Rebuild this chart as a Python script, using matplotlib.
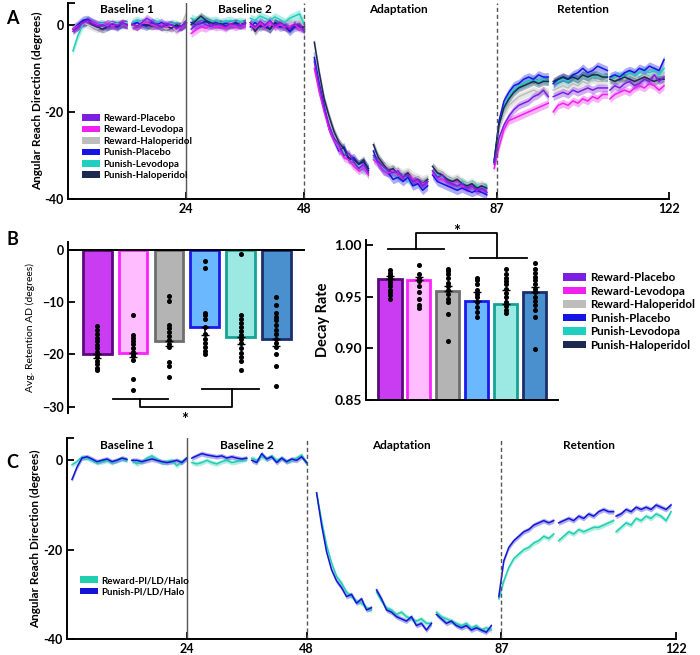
import numpy as np
import matplotlib.pyplot as plt
from matplotlib.patches import Patch

plt.rcParams['font.family'] = ['Lato', 'DejaVu Sans']
plt.rcParams['font.weight'] = 'bold'
plt.rcParams['axes.linewidth'] = 1.4

#----------------------------Data----------------------------------------------#
# trial blocks: 12 cycles each, 4 baseline, 3 adaptation, 3 retention blocks
block_starts = [1, 13, 25, 37, 50, 62, 74, 86.5, 98.5, 110]

rew_placebo = [
    -1.5, -0.5, 0.5, 1.0, 0.2, -0.3, 0.0, -0.5, 0.3, -0.2, 0.5, 0.0,
    0.2, -0.3, 0.5, 1.5, 0.8, 0.0, -0.5, 0.2, 0.0, -0.8, -0.3, 0.5,
    -1.0, 0.0, 0.5, 0.0, -0.3, 0.2, 0.0, -0.5, 0.3, 0.0, -0.2, 0.4,
    0.5, -0.5, 0.8, 0.0, 1.0, -0.3, 0.5, 0.0, -1.0, 0.2, 0.0, -1.5,
    -8.5, -14.0, -19.0, -23.0, -26.0, -27.5, -30.0, -29.5, -31.5, -33.0, -32.0, -34.0,
    -30.0, -31.5, -32.5, -33.5, -34.0, -33.5, -35.0, -34.5, -36.0, -35.5, -37.0, -36.0,
    -33.5, -35.0, -34.5, -36.0, -36.5, -37.0, -36.5, -37.5, -37.0, -38.0, -37.5, -38.5,
    -32.0, -26.0, -23.0, -21.0, -19.5, -18.5, -18.0, -17.5, -16.5, -16.0, -15.0, -16.5,
    -16.5, -16.0, -15.5, -16.0, -15.0, -15.5, -15.0, -14.5, -15.0, -14.5, -14.5, -14.5,
    -15.0, -14.0, -14.5, -13.5, -13.0, -14.0, -13.5, -12.5, -13.0, -11.5, -13.0, -12.0]
rew_levodopa = [
    -1.0, -0.3, 0.3, 0.8, 0.5, 0.0, -0.2, 0.3, -0.3, 0.0, 0.3, -0.2,
    0.0, -0.5, 0.3, 0.5, 0.0, -0.3, 0.2, -0.5, 0.0, -1.0, -0.5, 0.3,
    -2.0, -1.2, -0.5, -0.8, 0.0, -0.5, -0.3, -0.8, 0.0, -0.5, 0.0, -0.3,
    0.0, -0.8, 0.3, -0.5, 0.5, -0.5, 0.0, -0.5, -0.3, 0.0, -0.8, -1.0,
    -10.0, -15.5, -20.0, -24.0, -26.5, -28.5, -30.5, -31.0, -32.5, -33.5, -33.0, -34.5,
    -31.0, -32.0, -33.5, -34.0, -33.5, -34.5, -35.0, -34.5, -35.5, -36.0, -36.5, -36.0,
    -34.0, -35.0, -35.5, -36.0, -36.5, -36.0, -37.0, -37.5, -37.0, -38.0, -37.5, -38.5,
    -33.0, -28.0, -24.0, -22.0, -21.5, -21.0, -20.5, -20.0, -19.5, -19.0, -18.5, -18.0,
    -20.0, -18.5, -18.0, -18.5, -17.5, -18.0, -17.0, -17.5, -16.5, -17.0, -16.0, -16.0,
    -17.0, -16.0, -15.5, -15.0, -15.5, -14.5, -14.0, -14.5, -13.5, -14.0, -15.0, -14.0]
rew_haloperidol = [
    -0.5, 0.0, 0.5, 0.0, -0.5, -1.0, -0.5, 0.0, 0.5, -0.3, 0.2, 0.5,
    -0.5, 0.0, 0.8, 0.3, -0.2, 0.0, -0.5, -1.0, -0.3, -1.5, 0.0, 2.5,
    0.5, 0.0, 0.3, 0.0, 0.5, 0.0, 0.3, -0.2, 0.5, 0.0, 0.3, 0.5,
    0.5, 0.0, 0.8, 0.3, 1.0, 0.5, 0.0, 0.5, 0.8, 0.0, 1.0, -0.5,
    -6.5, -13.0, -18.0, -22.5, -25.5, -27.0, -29.0, -30.0, -31.0, -32.5, -32.0, -33.5,
    -29.0, -30.5, -32.0, -32.5, -33.0, -33.5, -34.0, -33.5, -34.5, -35.0, -35.5, -35.0,
    -32.5, -33.5, -34.0, -35.0, -35.5, -35.0, -36.0, -36.5, -36.0, -37.0, -36.5, -37.5,
    -31.5, -24.0, -20.5, -18.5, -17.5, -16.5, -16.0, -15.5, -15.0, -15.5, -15.0, -15.5,
    -15.0, -14.5, -14.0, -14.5, -13.5, -14.0, -13.0, -13.5, -12.5, -13.0, -13.0, -12.5,
    -13.0, -12.5, -12.0, -12.5, -11.5, -12.0, -12.5, -11.5, -12.0, -11.0, -11.5, -11.0]
pun_placebo = [
    -1.0, 0.0, 1.0, 1.2, 0.5, 0.0, -0.3, 0.2, 0.0, -0.5, 0.3, 0.0,
    0.0, 0.5, 0.0, -0.3, 0.5, 0.0, 0.5, -0.3, 0.0, -0.5, -0.3, 0.3,
    0.5, 0.0, 0.3, 0.8, 0.0, 0.5, 0.0, 0.3, 0.0, 0.5, 0.0, 0.3,
    -0.5, 0.5, -0.5, 0.0, -1.0, 0.5, -0.5, -0.3, -1.5, -0.5, -0.3, -1.0,
    -7.5, -13.5, -18.5, -24.0, -26.5, -29.0, -28.0, -31.0, -30.5, -32.0, -31.5, -33.0,
    -29.0, -32.0, -33.5, -34.0, -35.5, -35.0, -36.0, -35.0, -37.0, -36.5, -38.0, -37.0,
    -34.5, -36.0, -36.5, -37.0, -37.5, -38.0, -37.5, -38.0, -38.5, -38.0, -38.5, -39.0,
    -31.5, -22.0, -17.5, -15.5, -14.0, -13.5, -12.5, -12.0, -12.5, -11.5, -12.0, -12.0,
    -13.5, -12.5, -12.0, -12.5, -11.5, -11.0, -10.0, -11.0, -10.5, -9.5, -10.0, -10.5,
    -12.0, -11.5, -12.0, -11.0, -10.5, -11.0, -10.0, -10.5, -9.5, -10.0, -10.5, -8.0]
pun_levodopa = [
    -6.0, -2.5, 0.0, 1.0, 0.5, 0.0, 0.3, -0.3, 0.0, 0.3, 0.0, 0.3,
    0.5, 1.0, 0.5, 0.0, 0.3, 0.8, 0.0, -0.3, 0.3, 0.0, -0.5, 0.5,
    1.5, 1.0, 1.5, 1.2, 0.8, 1.0, 0.5, 0.8, 1.0, 0.5, 0.8, 0.5,
    1.5, 1.0, 2.0, 1.5, 1.0, 1.8, 1.2, 0.5, 1.5, 2.0, 2.5, 0.0,
    -8.0, -14.0, -19.5, -23.5, -26.0, -28.0, -29.5, -30.5, -31.5, -32.5, -33.5, -33.0,
    -30.5, -32.0, -33.0, -34.0, -33.5, -35.0, -34.5, -35.5, -36.0, -35.5, -36.5, -35.5,
    -33.5, -34.5, -35.0, -35.5, -36.0, -36.5, -36.0, -37.0, -36.5, -37.0, -37.5, -37.0,
    -31.0, -22.5, -18.5, -16.5, -15.0, -14.0, -13.5, -13.0, -12.5, -13.0, -12.5, -13.0,
    -13.5, -13.0, -12.5, -13.0, -12.0, -12.5, -11.5, -12.0, -12.0, -11.5, -12.0, -12.0,
    -12.5, -12.0, -11.5, -12.0, -11.0, -11.5, -11.0, -10.5, -11.0, -10.5, -11.5, -10.0]
pun_haloperidol = [
    -1.0, -0.5, 0.5, 0.8, 0.0, -0.5, -1.0, -0.5, 0.0, -0.3, 0.3, 0.0,
    0.0, -0.5, 0.3, 0.0, -0.3, 0.0, -0.5, -0.3, -0.8, 0.0, -0.5, 0.5,
    0.0, 1.0, 2.0, 1.0, 0.5, 0.0, 0.3, -0.3, 0.0, 0.3, 0.0, 0.5,
    0.5, -1.5, 0.0, -0.5, -1.0, 0.5, 0.0, -0.5, -1.0, 0.0, -0.5, -0.5,
    -4.0, -11.0, -17.0, -21.0, -24.5, -27.0, -28.5, -30.5, -31.0, -32.0, -31.0, -33.5,
    -27.5, -30.5, -32.0, -33.5, -33.0, -34.5, -35.0, -34.0, -36.0, -35.5, -36.5, -35.5,
    -32.5, -34.0, -34.5, -35.5, -36.0, -35.5, -36.5, -37.0, -36.5, -37.5, -37.0, -37.5,
    -31.5, -23.0, -19.0, -17.0, -15.5, -14.5, -14.0, -13.5, -13.0, -13.5, -13.0, -13.0,
    -13.0, -12.5, -12.0, -12.5, -12.0, -12.5, -11.5, -12.0, -11.5, -11.5, -12.0, -12.0,
    -12.5, -13.0, -12.5, -12.0, -12.5, -13.0, -12.5, -12.0, -12.5, -13.0, -12.5, -12.5]

# pooled over drug conditions (panel C)
rew_pooled = [
    -1.0, -0.3, 0.8, 0.5, 0.0, -0.5, -0.3, 0.0, -0.5, 0.0, 0.3, 0.0,
    0.0, -0.8, -0.3, 0.5, 1.0, 0.3, -0.5, -0.3, 0.0, -1.2, -0.3, 0.5,
    -0.5, -0.8, -0.5, 0.0, -0.5, -0.8, -0.3, 0.0, -0.5, -0.3, 0.0, 0.3,
    0.5, 0.0, 0.8, 0.3, 1.0, 0.0, 0.5, -0.3, 0.0, 0.5, 1.2, -0.8,
    -7.3, -13.5, -19.0, -23.0, -26.0, -27.5, -29.5, -30.5, -31.5, -32.0, -33.0, -33.5,
    -29.5, -31.5, -33.0, -33.5, -34.5, -34.0, -35.0, -35.5, -36.0, -35.5, -36.5, -36.5,
    -34.0, -35.0, -35.5, -36.0, -36.5, -37.0, -36.5, -37.5, -37.0, -38.0, -37.5, -38.0,
    -31.0, -27.0, -24.0, -22.0, -21.0, -20.0, -19.5, -18.5, -18.0, -17.0, -17.5, -16.5,
    -18.0, -17.0, -16.0, -16.5, -15.5, -16.0, -15.5, -15.0, -15.0, -14.5, -14.0, -13.5,
    -16.0, -15.0, -14.0, -14.5, -13.0, -13.5, -12.5, -13.0, -12.0, -12.5, -13.5, -11.5]
pun_pooled = [
    -4.3, -1.5, 0.5, 0.8, 0.3, -0.3, 0.0, 0.3, -0.3, 0.0, 0.5, 0.2,
    0.0, 0.0, -0.3, 0.0, 0.3, 0.0, -0.3, -0.5, -0.3, 0.0, -0.5, 0.5,
    0.5, 1.0, 1.5, 1.2, 1.0, 0.8, 1.0, 0.5, 0.8, 0.5, 0.3, 0.5,
    0.0, -0.5, 1.5, 0.3, 0.8, -0.5, 0.5, -0.3, 0.3, 0.0, 0.8, -0.5,
    -7.3, -14.5, -20.5, -24.5, -27.0, -28.5, -30.5, -30.0, -32.0, -31.0, -33.5, -33.0,
    -29.0, -31.0, -33.5, -34.0, -35.0, -35.5, -36.0, -35.0, -37.0, -36.5, -38.0, -36.5,
    -34.5, -35.5, -36.5, -36.0, -37.0, -37.5, -37.0, -38.0, -37.5, -38.0, -38.5, -37.0,
    -30.5, -22.5, -19.5, -18.0, -17.0, -16.0, -15.5, -14.5, -14.0, -13.5, -14.0, -13.5,
    -14.0, -13.5, -13.0, -13.5, -12.5, -13.0, -12.0, -12.5, -11.5, -11.0, -11.5, -11.5,
    -12.5, -12.0, -11.0, -11.5, -10.5, -11.0, -10.5, -11.0, -10.0, -10.5, -11.0, -10.0]

group_names = ['Reward-Placebo', 'Reward-Levodopa', 'Reward-Haloperidol',
               'Punish-Placebo', 'Punish-Levodopa', 'Punish-Haloperidol']
pooled_names = ['Reward-Pl/LD/Halo', 'Punish-Pl/LD/Halo']
sem_groups = [0.9, 0.9, 0.9, 1.0, 1.0, 0.9]
sem_pooled = [0.55, 0.55]

# panel B
retention_mean = [-19.9, -19.8, -17.5, -14.8, -16.7, -17.1]
retention_sem = [0.7, 0.6, 0.8, 1.5, 1.3, 1.3]
retention_subj = [
    [-14.5, -15.3, -16.0, -16.8, -17.5, -18.2, -18.8, -19.5, -20.0, -20.5, -21.2, -21.8, -22.5, -23.0],
    [-12.5, -16.3, -16.8, -17.5, -18.0, -18.7, -19.5, -20.0, -20.3, -21.0, -24.7, -26.8],
    [-8.8, -9.8, -14.3, -15.0, -15.8, -16.5, -17.3, -18.0, -18.5, -21.5, -22.3, -24.3],
    [-2.2, -3.5, -12.0, -12.5, -13.3, -14.8, -16.0, -17.0, -17.8, -18.5, -19.3, -20.0],
    [-0.8, -12.5, -13.3, -14.0, -14.8, -15.5, -16.3, -17.0, -17.8, -18.8, -19.8, -20.5, -21.3, -23.0],
    [-9.0, -10.5, -12.0, -12.8, -13.5, -14.3, -15.3, -16.0, -17.0, -17.8, -18.5, -20.0, -22.3, -26.0]]
decay_mean = [0.967, 0.966, 0.956, 0.946, 0.943, 0.955]
decay_sem = [0.003, 0.003, 0.004, 0.009, 0.014, 0.004]
decay_subj = [
    [0.976, 0.973, 0.971, 0.969, 0.967, 0.965, 0.963, 0.960, 0.957, 0.955, 0.952, 0.948],
    [0.981, 0.972, 0.968, 0.965, 0.960, 0.955, 0.948, 0.942, 0.939],
    [0.977, 0.975, 0.972, 0.968, 0.963, 0.960, 0.957, 0.953, 0.948, 0.945, 0.933, 0.907],
    [0.968, 0.966, 0.962, 0.957, 0.953, 0.950, 0.945, 0.940, 0.935, 0.930],
    [0.977, 0.972, 0.968, 0.965, 0.962, 0.958, 0.954, 0.950, 0.945, 0.941, 0.937, 0.934],
    [0.983, 0.977, 0.973, 0.969, 0.966, 0.962, 0.958, 0.955, 0.950, 0.946, 0.942, 0.937, 0.930, 0.899]]

#----------------------------Style---------------------------------------------#
line_colors = ['#7b1fe0', '#f020f0', '#bdbdbd', '#1414e6', '#1fcfbf', '#1b2a50']
pooled_colors = ['#1fcfb0', '#1414d6']
bar_face = ['#c93cf2', '#ffbcff', '#b4b4b4', '#6cb8ff', '#9ce8e2', '#4a90cf']
bar_edge = ['#5a0a7a', '#ff22ff', '#6e6e6e', '#1a1aee', '#14a396', '#1d2f6b']
draw_order = [2, 4, 3, 5, 1, 0]

W, H = 700, 655
fig = plt.figure(figsize=(7, 6.55), dpi=100)


def px_axes(x0, y0, x1, y1):
    return fig.add_axes([x0 / W, 1 - y1 / H, (x1 - x0) / W, (y1 - y0) / H])


def plot_blocks(ax, values, color, sem):
    vals = np.asarray(values)
    for i, s in enumerate(block_starts):
        x = s + np.arange(12)
        y = vals[i * 12:(i + 1) * 12]
        ax.fill_between(x, y - sem, y + sem, color=color, alpha=0.35, lw=0)
        ax.plot(x, y, color=color, lw=1.1)


def setup_time_axes(ax):
    ax.set_xlim(0, 122)
    ax.set_ylim(-40, 5)
    ax.spines['top'].set_visible(False)
    ax.spines['right'].set_visible(False)
    ax.set_xticks([24, 48, 87, 122])
    ax.set_yticks([-40, -20, 0, 5])
    ax.set_yticklabels(['-40', '-20', '0', ''])
    ax.tick_params(direction='in', length=5, width=1.3, labelsize=9, pad=3)
    for lab in ax.get_xticklabels() + ax.get_yticklabels():
        lab.set_fontweight('bold')
    ax.axvline(24, color='#555555', lw=1.0)
    ax.axvline(48, color='#555555', lw=1.0, ls=(0, (3, 2)))
    ax.axvline(87, color='#555555', lw=1.0, ls=(0, (3, 2)))
    for xc, txt in [(12, 'Baseline 1'), (36, 'Baseline 2'),
                    (67, 'Adaptation'), (104.5, 'Retention')]:
        ax.text(xc, 3.4, txt, ha='center', va='center', fontsize=8.5,
                fontweight='bold')
    ax.set_ylabel('Angular Reach Direction (degrees)', fontsize=8.5,
                  fontweight='bold')
    ax.yaxis.set_label_coords(-0.042, 0.5)


leg_kw = dict(loc='upper left', frameon=False, fontsize=7, handlelength=1.8,
              handleheight=0.65, labelspacing=0.25, borderpad=0,
              borderaxespad=0, handletextpad=0.4)

#----------------------------Panel A-------------------------------------------#
axA = px_axes(68, 3, 669, 199)
all_groups = [rew_placebo, rew_levodopa, rew_haloperidol,
              pun_placebo, pun_levodopa, pun_haloperidol]
for k in draw_order:
    plot_blocks(axA, all_groups[k], line_colors[k], sem_groups[k])
setup_time_axes(axA)
handles = [Patch(facecolor=c, edgecolor='none') for c in line_colors]
axA.legend(handles, group_names,
           bbox_to_anchor=((82 - 68) / 601, (199 - 114) / 196), **leg_kw)

#----------------------------Panel C-------------------------------------------#
axC = px_axes(67, 438, 676, 639)
for k in [0, 1]:
    plot_blocks(axC, [rew_pooled, pun_pooled][k], pooled_colors[k], sem_pooled[k])
setup_time_axes(axC)
handles = [Patch(facecolor=c, edgecolor='none') for c in pooled_colors]
axC.legend(handles, pooled_names,
           bbox_to_anchor=((80 - 67) / 609, (639 - 576) / 201), **leg_kw)

#----------------------------Panel B left--------------------------------------#
pos = np.arange(1, 7)
axB1 = px_axes(68, 242, 305, 413)
axB1.bar(pos, retention_mean, width=0.8, color=bar_face, edgecolor=bar_edge,
         linewidth=2, zorder=2)
axB1.errorbar(pos, retention_mean, yerr=[retention_sem, np.zeros(6)],
              fmt='none', ecolor='black', elinewidth=1.2, capsize=3, zorder=3)
for i, subj in enumerate(retention_subj):
    axB1.plot(np.full(len(subj), pos[i]), subj, 'o', color='black',
              markersize=2.6, zorder=4)
axB1.axhline(0, color='black', lw=1.4, zorder=5)
axB1.set_xlim(0.18, 6.8)
axB1.set_ylim(-31.2, 1.5)
axB1.set_xticks([])
axB1.set_yticks([-30, -20, -10, 0])
axB1.tick_params(direction='in', length=5, width=1.3, labelsize=9, pad=3)
for lab in axB1.get_yticklabels():
    lab.set_fontweight('bold')
for s in ['top', 'right', 'bottom']:
    axB1.spines[s].set_visible(False)
axB1.set_ylabel('Avg. Retention AD (degrees)', fontsize=7.5, fontweight='normal')
axB1.yaxis.set_label_coords(-0.14, 0.5)
kw = dict(color='black', lw=1.3, clip_on=False)
axB1.plot([1.43, 2.96], [-28.5, -28.5], **kw)
axB1.plot([3.93, 5.51], [-26.6, -26.6], **kw)
axB1.plot([2.18, 2.18, 4.76, 4.76], [-28.5, -30.0, -30.0, -26.6], **kw)
axB1.text(3.43, -32.6, '*', ha='center', va='center', fontsize=12,
          fontweight='bold')

#----------------------------Panel B right-------------------------------------#
axB2 = px_axes(366, 240, 558, 400)
axB2.bar(pos, decay_mean, width=0.8, color=bar_face, edgecolor=bar_edge,
         linewidth=2, zorder=2)
axB2.errorbar(pos, decay_mean, yerr=[np.zeros(6), decay_sem],
              fmt='none', ecolor='black', elinewidth=1.2, capsize=3, zorder=3)
for i, subj in enumerate(decay_subj):
    axB2.plot(np.full(len(subj), pos[i]), subj, 'o', color='black',
              markersize=2.6, zorder=4)
axB2.set_xlim(0.17, 6.81)
axB2.set_ylim(0.85, 1.005)
axB2.set_xticks([])
axB2.set_yticks([0.85, 0.90, 0.95, 1.00])
axB2.set_yticklabels(['0.85', '0.90', '0.95', '1.00'])
axB2.tick_params(direction='in', length=5, width=1.3, labelsize=10, pad=3)
for lab in axB2.get_yticklabels():
    lab.set_fontweight('bold')
for s in ['top', 'right']:
    axB2.spines[s].set_visible(False)
axB2.set_ylabel('Decay Rate', fontsize=10.5, fontweight='bold')
axB2.yaxis.set_label_coords(-0.19, 0.5)
axB2.plot([0.92, 2.87], [0.996, 0.996], **kw)
axB2.plot([3.77, 5.74], [0.988, 0.988], **kw)
axB2.plot([1.9, 1.9, 4.69, 4.69], [0.996, 1.012, 1.012, 0.988], **kw)
axB2.text(3.3, 1.013, '*', ha='center', va='center', fontsize=12,
          fontweight='bold', clip_on=False)

handles = [Patch(facecolor=c, edgecolor='none') for c in line_colors]
fig.legend(handles, group_names, loc='upper left',
           bbox_to_anchor=(563 / W, 1 - 272 / H), frameon=False, fontsize=8.4,
           handlelength=2.0, handleheight=0.6, labelspacing=0.22,
           borderpad=0, borderaxespad=0, handletextpad=0.3)

#----------------------------Panel letters-------------------------------------#
for txt, yp in [('A', 18), ('B', 240), ('C', 462)]:
    fig.text(12 / W, 1 - yp / H, txt, fontsize=13, fontweight='bold',
             ha='center', va='center')

fig.savefig('out.png', dpi=100)
